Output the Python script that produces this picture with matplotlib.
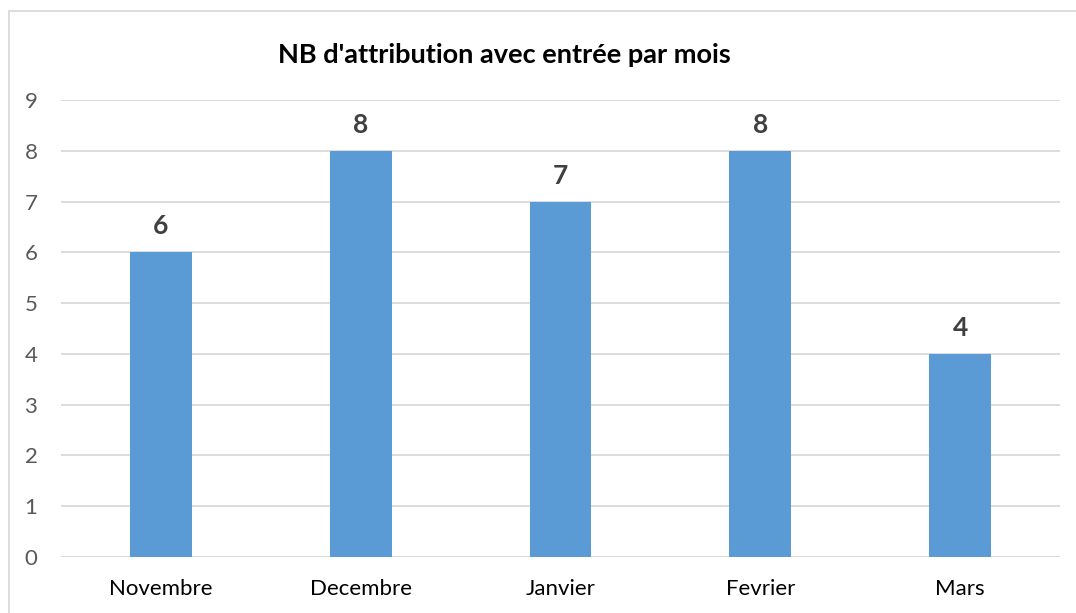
import matplotlib
matplotlib.use("Agg")
import matplotlib.pyplot as plt
from matplotlib.patches import Rectangle

categories = ["Novembre", "Decembre", "Janvier", "Fevrier", "Mars"]
values = [6, 8, 7, 8, 4]
yticks = list(range(0, 10))
title = "NB d'attribution avec entrée par mois"

W, H = 1076, 613
fig = plt.figure(figsize=(W / 100, H / 100), dpi=100)
plt.rcParams['font.family'] = ['Lato', 'DejaVu Sans']

# chart border (top/left visible, extends past image)
fig.patches.append(Rectangle((9 / W, -0.1), 1.2, (H - 11) / H + 0.1,
                             transform=fig.transFigure, fill=False,
                             edgecolor="#d9d9d9", linewidth=1.3))

left, right, top, bottom = 61, 1060, 100, 557
ax = fig.add_axes([left / W, 1 - bottom / H, (right - left) / W, (bottom - top) / H])
x = list(range(len(categories)))
ax.bar(x, values, width=0.31, color="#5b9bd5", zorder=3)
ax.set_xlim(-0.5, len(categories) - 0.5)
ax.set_ylim(0, 9)
ax.set_yticks(yticks)
ax.set_yticklabels([str(v) for v in yticks], fontsize=16, color="#595959")
ax.set_xticks(x)
ax.set_xticklabels(categories, fontsize=16, color="#000000")
ax.tick_params(axis="both", length=0)
ax.tick_params(axis="y", pad=17)
ax.tick_params(axis="x", pad=16)
ax.grid(axis="y", color="#d9d9d9", linewidth=1.3, zorder=0)
for s in ax.spines.values():
    s.set_visible(False)
ax.axhline(0, color="#d9d9d9", linewidth=1.3, zorder=2)

for xi, v in zip(x, values):
    ax.annotate(str(v), (xi, v), xytext=(0, 10), textcoords="offset points",
                ha="center", va="bottom", fontsize=19, fontweight="bold", color="#404040")

fig.text(504 / W, 1 - 55 / H, title, ha="center", va="center",
         fontsize=19.5, fontweight="bold", color="#000000")

fig.savefig("out.png", dpi=100, facecolor="white")
